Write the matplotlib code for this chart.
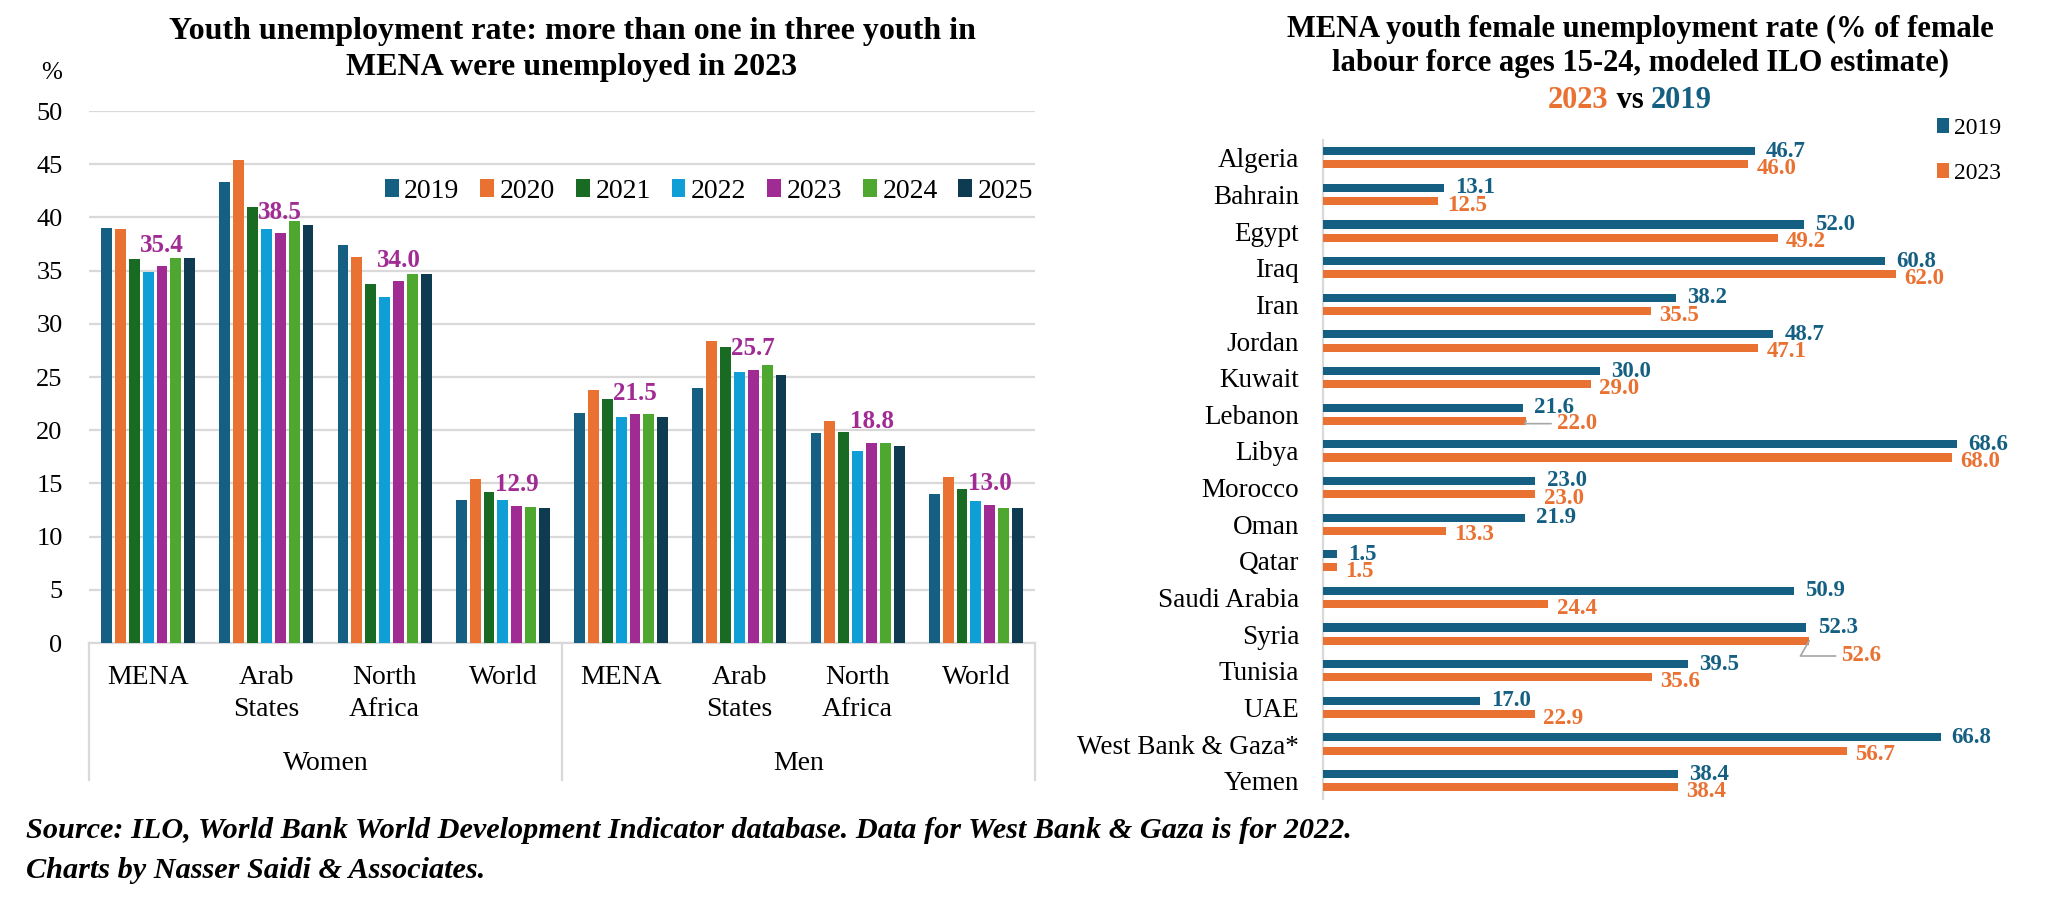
import matplotlib
matplotlib.use('Agg')
import matplotlib.pyplot as plt
import numpy as np
from matplotlib.lines import Line2D
from matplotlib.patches import Patch
from matplotlib.offsetbox import TextArea, HPacker, AnnotationBbox

plt.rcParams['font.family'] = ['Liberation Serif', 'DejaVu Serif']

# ---------------- data: left chart ----------------
years = ['2019', '2020', '2021', '2022', '2023', '2024', '2025']
regions = ['MENA', 'Arab\nStates', 'North\nAfrica', 'World']
genders = ['Women', 'Men']
# order: Women MENA, Arab States, North Africa, World, Men MENA, Arab States, North Africa, World
rate_2019 = [39.0, 43.3, 37.4, 13.4, 21.6, 24.0, 19.7, 14.0]
rate_2020 = [38.9, 45.4, 36.3, 15.4, 23.8, 28.4, 20.9, 15.6]
rate_2021 = [36.1, 41.0, 33.7, 14.2, 22.9, 27.8, 19.8, 14.5]
rate_2022 = [34.9, 38.9, 32.5, 13.4, 21.2, 25.5, 18.0, 13.3]
rate_2023 = [35.4, 38.5, 34.0, 12.9, 21.5, 25.7, 18.8, 13.0]
rate_2024 = [36.2, 39.7, 34.7, 12.8, 21.5, 26.1, 18.8, 12.7]
rate_2025 = [36.2, 39.3, 34.7, 12.7, 21.2, 25.2, 18.5, 12.7]
yticks_left = [0, 5, 10, 15, 20, 25, 30, 35, 40, 45, 50]

# ---------------- data: right chart ----------------
countries = ['Algeria', 'Bahrain', 'Egypt', 'Iraq', 'Iran', 'Jordan', 'Kuwait',
             'Lebanon', 'Libya', 'Morocco', 'Oman', 'Qatar', 'Saudi Arabia',
             'Syria', 'Tunisia', 'UAE', 'West Bank & Gaza*', 'Yemen']
female_2019 = [46.7, 13.1, 52.0, 60.8, 38.2, 48.7, 30.0, 21.6, 68.6, 23.0,
               21.9, 1.5, 50.9, 52.3, 39.5, 17.0, 66.8, 38.4]
female_2023 = [46.0, 12.5, 49.2, 62.0, 35.5, 47.1, 29.0, 22.0, 68.0, 23.0,
               13.3, 1.5, 24.4, 52.6, 35.6, 22.9, 56.7, 38.4]

# ---------------- style ----------------
year_colors = ['#156082', '#E97132', '#196B24', '#0F9ED5', '#A02B93', '#4EA72E', '#0E3A52']
BLUE = '#156082'
ORANGE = '#E97132'
PURPLE = '#A02B93'
GRID = '#D9D9D9'

W, H = 2070, 900
fig = plt.figure(figsize=(W / 100, H / 100), dpi=100)

def fx(px):
    return px / W

def fy(py):
    return 1 - py / H

# ================= LEFT CHART =================
axL = fig.add_axes([fx(89), fy(643), fx(1035) - fx(89), fy(111) - fy(643)])
series = [rate_2019, rate_2020, rate_2021, rate_2022, rate_2023, rate_2024, rate_2025]
x = np.arange(len(rate_2019))
pitch = 0.1175
bw = 0.092
for i, (yr, vals, col) in enumerate(zip(years, series, year_colors)):
    axL.bar(x + (i - 3) * pitch, vals, width=bw, color=col, label=yr, zorder=3)

# value labels for 2023
for xi, v in zip(x, rate_2023):
    axL.annotate(f'{v:.1f}', (xi + (4 - 3) * pitch, v), xytext=(0, 7),
                 textcoords='offset points', ha='center', va='bottom',
                 color=PURPLE, fontsize=18, fontweight='bold', zorder=4)

axL.set_xlim(-0.5, 7.5)
axL.set_ylim(0, 50)
axL.set_yticks(yticks_left)
axL.set_yticklabels([str(t) for t in yticks_left], fontsize=19)
axL.tick_params(axis='y', length=0, pad=19)
axL.set_xticks([])
axL.grid(axis='y', color=GRID, linewidth=1.6, zorder=0)
axL.set_axisbelow(True)
for s in ['top', 'right', 'left']:
    axL.spines[s].set_visible(False)
axL.spines['bottom'].set_color(GRID)
axL.spines['bottom'].set_linewidth(1.6)

# category labels below axis
trL = axL.get_xaxis_transform()
for g in range(2):
    for r, lab in enumerate(regions):
        axL.text(g * 4 + r, -0.042, lab, transform=trL, ha='center', va='top',
                 fontsize=20, linespacing=1.35)
    axL.text(g * 4 + 1.5, -0.2256, genders[g], transform=trL, ha='center',
             va='center', fontsize=20)
for xv in [-0.5, 3.5, 7.5]:
    axL.add_line(Line2D([xv, xv], [0, -0.2575], transform=trL, color=GRID,
                        linewidth=1.6, clip_on=False))

fig.text(fx(62), fy(73), '%', ha='right', va='center', fontsize=18)
fig.text(fx(572), fy(32), 'Youth unemployment rate: more than one in three youth in',
         ha='center', va='center', fontsize=23, fontweight='bold')
fig.text(fx(572), fy(67), 'MENA were unemployed in 2023',
         ha='center', va='center', fontsize=23, fontweight='bold')

handlesL = [Patch(facecolor=c, edgecolor='none') for c in year_colors]
fig.legend(handlesL, years, loc='center', bbox_to_anchor=(fx(709), fy(191)),
           ncol=7, frameon=False, fontsize=20, handlelength=0.5, handleheight=0.6,
           handletextpad=0.2, columnspacing=0.75, borderpad=0, borderaxespad=0)

# ================= RIGHT CHART =================
ax0 = 1322.7
ppu = 9.25
right_edge = 2062
axR = fig.add_axes([fx(ax0), fy(799), fx(right_edge) - fx(ax0), fy(139.5) - fy(799)])
y = np.arange(len(countries))
off = 0.18
bh = 0.22
axR.barh(y - off, female_2019, height=bh, color=BLUE, label='2019', zorder=3)
axR.barh(y + off, female_2023, height=bh, color=ORANGE, label='2023', zorder=3)
axR.set_xlim(0, (right_edge - ax0) / ppu)
axR.set_ylim(len(countries) - 0.5, -0.5)
axR.set_yticks(y)
axR.set_yticklabels(countries, fontsize=19.5)
axR.tick_params(axis='y', length=0, pad=17)
axR.set_xticks([])
for s in ['top', 'right', 'bottom']:
    axR.spines[s].set_visible(False)
axR.spines['left'].set_color(GRID)
axR.spines['left'].set_linewidth(1.6)

# special label placements (offset in points) with leader lines
nudges_2023 = {'Syria': (23, -11), 'Lebanon': (22, -2)}
for i, (c, v19, v23) in enumerate(zip(countries, female_2019, female_2023)):
    axR.annotate(f'{v19:.1f}', (v19, i - off), xytext=(8, 0), textcoords='offset points',
                 ha='left', va='center', color=BLUE, fontsize=16.5, fontweight='bold', zorder=5)
    if c in nudges_2023:
        axR.annotate(f'{v23:.1f}', (v23, i + off), xytext=nudges_2023[c],
                     textcoords='offset points', ha='left', va='center', color=ORANGE,
                     fontsize=16.5, fontweight='bold', zorder=5,
                     arrowprops=dict(arrowstyle='-', color='#A6A6A6', lw=1.2,
                                     shrinkA=2, shrinkB=0,
                                     connectionstyle='angle,angleA=0,angleB=60,rad=0'))
    else:
        axR.annotate(f'{v23:.1f}', (v23, i + off), xytext=(6, -3), textcoords='offset points',
                     ha='left', va='center', color=ORANGE, fontsize=16.5, fontweight='bold',
                     zorder=5)

fig.text(fx(1640), fy(29), 'MENA youth female unemployment rate (% of female',
         ha='center', va='center', fontsize=22, fontweight='bold')
fig.text(fx(1640), fy(63), 'labour force ages 15-24, modeled ILO estimate)',
         ha='center', va='center', fontsize=22, fontweight='bold')
tp = dict(fontsize=22, fontweight='bold', family=['Liberation Serif', 'DejaVu Serif'])
box = HPacker(children=[TextArea('2023', textprops=dict(color=ORANGE, **tp)),
                        TextArea('\u00a0vs\u00a0', textprops=dict(color='black', **tp)),
                        TextArea('2019', textprops=dict(color=BLUE, **tp))],
              align='baseline', pad=0, sep=0)
fig.add_artist(AnnotationBbox(box, (fx(1630), fy(100)), xycoords='figure fraction',
                              frameon=False, box_alignment=(0.5, 0.5), pad=0))

handlesR = [Patch(facecolor=BLUE, edgecolor='none'), Patch(facecolor=ORANGE, edgecolor='none')]
fig.legend(handlesR, ['2019', '2023'], loc='upper left', bbox_to_anchor=(fx(1937), fy(118)),
           ncol=1, frameon=False, fontsize=17, handlelength=0.5, handleheight=0.6,
           handletextpad=0.2, labelspacing=1.0, borderpad=0, borderaxespad=0)

# ================= SOURCE =================
fig.text(fx(26), fy(831), 'Source: ILO, World Bank World Development Indicator database. '
         'Data for West Bank & Gaza is for 2022.', ha='left', va='center',
         fontsize=21.8, fontweight='bold', fontstyle='italic')
fig.text(fx(26), fy(870), 'Charts by Nasser Saidi & Associates.', ha='left', va='center',
         fontsize=21.8, fontweight='bold', fontstyle='italic')

fig.savefig('out.png', dpi=100, facecolor='white')
